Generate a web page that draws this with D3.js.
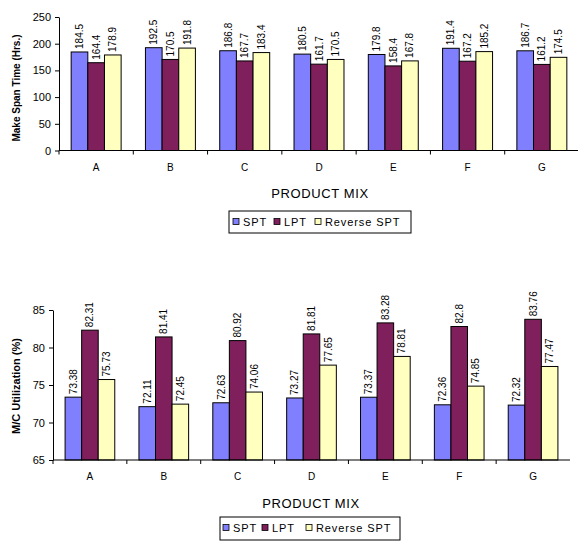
<!DOCTYPE html>
<html>
<head>
<meta charset="utf-8">
<script src="https://cdn.jsdelivr.net/npm/d3@7"></script>
<style>
  html, body { margin: 0; padding: 0; background: #fff; }
  svg { display: block; font-family: "Liberation Sans", Arial, sans-serif; }
</style>
</head>
<body>
<svg id="chart" width="578" height="541"></svg>
<script>
// Product mixes on the x axis
const categories = ["A", "B", "C", "D", "E", "F", "G"];
// Scheduling rules
const seriesNames = ["SPT", "LPT", "Reverse SPT"];
const seriesColors = ["#8080ff", "#7f1f5c", "#ffffc0"];

// Make span time (hours)
const makespanSPT = [184.5, 192.5, 186.8, 180.5, 179.8, 191.4, 186.7];
const makespanLPT = [164.4, 170.5, 167.7, 161.7, 158.4, 167.2, 161.2];
const makespanRSPT = [178.9, 191.8, 183.4, 170.5, 167.8, 185.2, 174.5];
const makespanTicks = [0, 50, 100, 150, 200, 250];

// Machine utilization (%)
const utilSPT = [73.38, 72.11, 72.63, 73.27, 73.37, 72.36, 72.32];
const utilLPT = [82.31, 81.41, 80.92, 81.81, 83.28, 82.8, 83.76];
const utilRSPT = [75.73, 72.45, 74.06, 77.65, 78.81, 74.85, 77.47];
const utilTicks = [65, 70, 75, 80, 85];

const svg = d3.select("#chart");

function drawPanel(cfg) {
  const g = svg.append("g");
  const x0 = d3.scaleBand().domain(categories).range([cfg.left, cfg.right]).padding(0);
  const x1 = d3.scaleBand().domain(seriesNames).range([0, x0.bandwidth()])
    .paddingInner(0).paddingOuter(0.73);
  const y = d3.scaleLinear().domain(cfg.domain).range([cfg.bottom, cfg.top]);
  const color = d3.scaleOrdinal().domain(seriesNames).range(seriesColors);

  const rows = [];
  categories.forEach((c, i) => {
    seriesNames.forEach((s, k) => {
      rows.push({ cat: c, series: s, value: cfg.values[k][i] });
    });
  });

  // bars
  g.append("g").selectAll("rect").data(rows).join("rect")
    .attr("x", d => x0(d.cat) + x1(d.series))
    .attr("y", d => y(d.value))
    .attr("width", x1.bandwidth())
    .attr("height", d => y(cfg.domain[0]) - y(d.value))
    .attr("fill", d => color(d.series))
    .attr("stroke", "#000")
    .attr("stroke-width", 1);

  // value labels
  g.append("g").selectAll("text").data(rows).join("text")
    .attr("transform", d => `translate(${x0(d.cat) + x1(d.series) + x1.bandwidth() / 2},${y(d.value) - 3}) rotate(-90)`)
    .attr("dy", "0.35em")
    .attr("text-anchor", "start")
    .attr("font-size", 10)
    .attr("fill", "#000")
    .text(d => d.value);

  // y axis
  const yAxis = d3.axisLeft(y).tickValues(cfg.ticks).tickSize(4).tickSizeOuter(0).tickPadding(4);
  const ya = g.append("g").attr("transform", `translate(${cfg.left},0)`).call(yAxis);
  ya.selectAll("text").attr("font-size", 11).attr("fill", "#000").attr("font-family", "Liberation Sans, Arial, sans-serif");
  ya.selectAll("line, path").attr("stroke", "#000");

  // x axis with ticks at category boundaries
  const xa = g.append("g").attr("transform", `translate(0,${cfg.bottom})`);
  xa.append("line").attr("x1", cfg.left).attr("x2", cfg.right).attr("stroke", "#000");
  xa.selectAll("line.tick").data(categories).join("line")
    .attr("class", "tick")
    .attr("x1", d => x0(d)).attr("x2", d => x0(d))
    .attr("y1", 0).attr("y2", 4).attr("stroke", "#000");
  xa.selectAll("text").data(categories).join("text")
    .attr("x", d => x0(d) + x0.bandwidth() / 2)
    .attr("y", 20)
    .attr("text-anchor", "middle")
    .attr("font-size", 10)
    .attr("fill", "#000")
    .text(d => d);

  // axis titles
  g.append("text")
    .attr("transform", `translate(20,${cfg.yTitleY}) rotate(-90)`)
    .attr("text-anchor", "middle")
    .attr("font-size", cfg.yTitleSize)
    .attr("font-weight", "bold")
    .text(cfg.yTitle);

  g.append("text")
    .attr("x", cfg.xTitleX).attr("y", cfg.xTitleY)
    .attr("text-anchor", "middle")
    .attr("font-size", 13)
    .attr("letter-spacing", 0.6)
    .text("PRODUCT MIX");

  // legend
  const lg = g.append("g").attr("transform", `translate(${cfg.legendX},${cfg.legendY})`);
  lg.append("rect").attr("width", cfg.legendW).attr("height", cfg.legendH)
    .attr("fill", "#fff").attr("stroke", "#000").attr("stroke-width", 1);
  seriesNames.forEach((s, k) => {
    const ox = cfg.legendOffsets[k];
    lg.append("rect").attr("x", ox).attr("y", 11 - 3.5).attr("width", 6).attr("height", 6)
      .attr("fill", color(s)).attr("stroke", "#000").attr("stroke-width", 0.8);
    lg.append("text").attr("x", ox + 10).attr("y", 11).attr("dy", "0.35em")
      .attr("font-size", 11).attr("letter-spacing", 0.9).text(s);
  });
}

drawPanel({
  values: [makespanSPT, makespanLPT, makespanRSPT],
  domain: [0, 250], ticks: makespanTicks,
  left: 59, right: 579, top: 17, bottom: 150.5,
  yTitle: "Make Span Time (Hrs.)", yTitleY: 88, yTitleSize: 10,
  xTitleX: 320, xTitleY: 198,
  legendX: 229, legendY: 211, legendW: 182, legendH: 22,
  legendOffsets: [4, 45, 86]
});

drawPanel({
  values: [utilSPT, utilLPT, utilRSPT],
  domain: [65, 85], ticks: utilTicks,
  left: 53, right: 570, top: 310, bottom: 460,
  yTitle: "M/C Utilization (%)", yTitleY: 386, yTitleSize: 11,
  xTitleX: 311, xTitleY: 508,
  legendX: 220, legendY: 517, legendW: 180, legendH: 23,
  legendOffsets: [3, 42, 86]
});
</script>
</body>
</html>
